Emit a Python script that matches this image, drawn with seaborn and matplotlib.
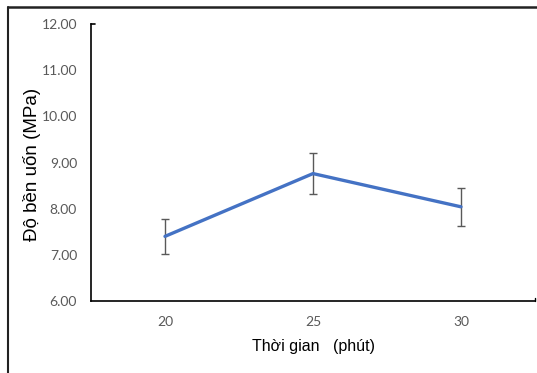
import matplotlib
matplotlib.use("Agg")
import matplotlib.pyplot as plt
import seaborn as sns
import pandas as pd
from matplotlib.lines import Line2D

# Data
times = ["20", "25", "30"]
strength = [7.40, 8.76, 8.04]
err = [0.38, 0.44, 0.41]
y_ticks = [6.00, 7.00, 8.00, 9.00, 10.00, 11.00, 12.00]

df = pd.DataFrame({"time": times, "strength": strength, "err": err})

sns.set_style("white")
plt.rcParams["font.family"] = ["Liberation Sans", "DejaVu Sans"]

fig = plt.figure(figsize=(5.37, 3.73), dpi=100)
ax = fig.add_axes([91/537, 1-301/373, (535-91)/537, (301-24)/373])

sns.lineplot(data=df, x="time", y="strength", ax=ax, color="#4472C4",
             linewidth=2.4, sort=False, zorder=3)
xpos = list(range(len(times)))
ax.errorbar(xpos, df["strength"], yerr=df["err"], fmt="none",
            ecolor="#595959", elinewidth=1.0, capsize=3, capthick=1.0, zorder=2)

ax.set_xlim(-0.5, 2.5)
ax.set_ylim(6, 12)
ax.set_yticks(y_ticks)
ax.set_yticklabels([f"{v:.2f}" for v in y_ticks], fontfamily="Lato",
                   fontsize=10, color="#595959")
ax.set_xticks(xpos)
ax.set_xticklabels(times, fontfamily="Lato", fontsize=10, color="#595959")

ax.tick_params(axis="y", length=0, pad=10)
ax.tick_params(axis="x", direction="in", length=3, width=1, color="black", pad=11)

# end-cap ticks like reference
ax.plot([-0.5, -0.5 + 0.025], [12, 12], color="black", lw=1.2, clip_on=False)
ax.plot([2.5, 2.5], [6, 6.07], color="black", lw=1.0, clip_on=False)

sns.despine(ax=ax, top=True, right=True)
for s in ["left", "bottom"]:
    ax.spines[s].set_color("black")
    ax.spines[s].set_linewidth(1.2)

ax.set_ylabel("Độ bền uốn (MPa)", fontsize=13.5, color="black")
ax.yaxis.set_label_coords(-(91-41)/444, 0.5 + (277/2 - (164-24))/277)
ax.set_xlabel("Thời gian   (phút)", fontsize=11.5, color="black")
ax.xaxis.set_label_coords((314-91)/444, -(339-301)/277)

# outer frame (left and top edges visible)
fig.add_artist(Line2D([8/537, 1.0], [1-7/373, 1-7/373], transform=fig.transFigure,
                      color="#222222", linewidth=1.8))
fig.add_artist(Line2D([8/537, 8/537], [0, 1-7/373], transform=fig.transFigure,
                      color="#222222", linewidth=1.5))

fig.savefig("out.png", dpi=100)
